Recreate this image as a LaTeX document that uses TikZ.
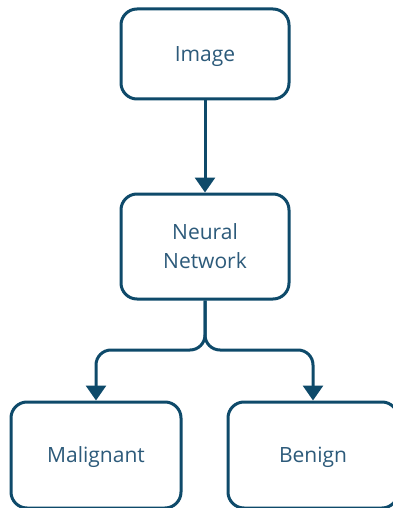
\documentclass[tikz,border=0pt]{standalone}
\usepackage{fontspec}
\setmainfont{Open Sans}
\usepackage{xcolor}
\usetikzlibrary{
    arrows.meta
}
\definecolor{boxline}{HTML}{0E4A6A}
\definecolor{boxtext}{HTML}{2C5A7A}

\begin{document}
\begin{tikzpicture}[x=1pt,y=1pt,>={Triangle[width=20pt,length=15pt]},line width=3pt,draw=boxline]
    \tikzstyle{every node}=[font=\fontsize{21}{29}\selectfont, text=boxtext, text depth=0pt]
    \tikzstyle{stage}=[draw=boxline, line width=3pt, rounded corners=16pt, fill=white, align=center, minimum width=168pt]

    \useasboundingbox (0,0) rectangle (393,-508);

    \node[stage, minimum height=90pt] (IMG) at (205,-54) {Image};
    \node[stage, minimum height=105pt] (NN) at (205,-246.5) {Neural\\Network};
    \node[stage, minimum width=170pt, minimum height=106pt] (MAL) at (96,-455) {Malignant};
    \node[stage, minimum width=170pt, minimum height=106pt] (BEN) at (313,-455) {Benign};
    \coordinate (split) at (205,-350);

    \path[draw=boxline] (IMG) edge[->] (NN);
    \draw[boxline, ->, rounded corners=15pt] (NN.south) |- (split) -| (MAL.north);
    \draw[boxline, ->, rounded corners=15pt] (NN.south) |- (split) -| (BEN.north);
\end{tikzpicture}
\end{document}
